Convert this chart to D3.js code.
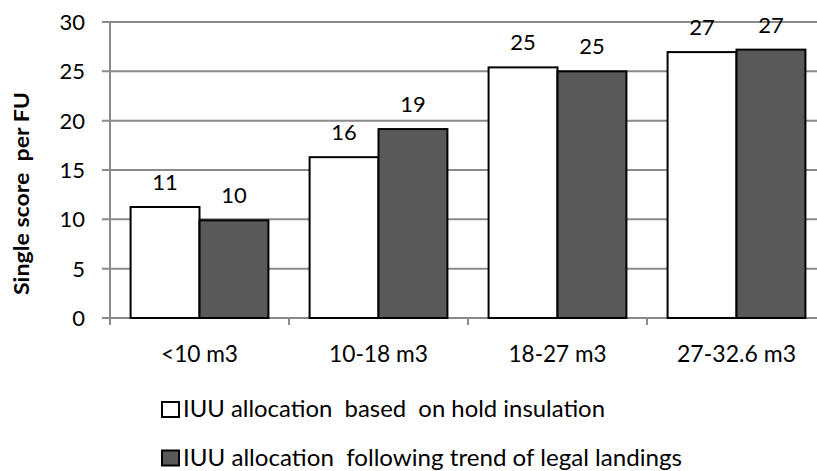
<!DOCTYPE html>
<html>
<head>
<meta charset="utf-8">
<script src="https://cdn.jsdelivr.net/npm/d3@7"></script>
<style>
  html, body { margin: 0; padding: 0; background: #fff; }
  svg { display: block; }
  text { font-family: Lato, "Open Sans", sans-serif; fill: #000; }
</style>
</head>
<body>
<svg id="chart" width="817" height="471"></svg>
<script>
// ---- data ----
const categories = ["<10 m3", "10-18 m3", "18-27 m3", "27-32.6 m3"];
const seriesNames = [
  "IUU allocation  based  on hold insulation",
  "IUU allocation  following trend of legal landings"
];
const hullInsulation = [11.25, 16.3, 25.4, 26.95];
const legalLandings = [9.9, 19.15, 25.0, 27.2];
const labelsHull = ["11", "16", "25", "27"];
const labelsLegal = ["10", "19", "25", "27"];
const yTicks = [0, 5, 10, 15, 20, 25, 30];
const yTitle = "Single score  per FU";

// ---- layout ----
const svg = d3.select("#chart");
const W = 817, H = 471;
const plot = { left: 110, right: 826, top: 22, bottom: 318 };
const gridColor = "#8a8a8a";
const fills = ["#ffffff", "#595959"];

const y = d3.scaleLinear().domain([0, 30]).range([plot.bottom, plot.top]);
const x0 = d3.scaleBand().domain(categories).range([plot.left, plot.right])
  .paddingInner(0.23).paddingOuter(0.115);
const x1 = d3.scaleBand().domain([0, 1]).range([0, x0.bandwidth()]).padding(0);

// gridlines
svg.append("g").selectAll("line").data(yTicks).join("line")
  .attr("x1", plot.left - 8).attr("x2", plot.right)
  .attr("y1", d => y(d)).attr("y2", d => y(d))
  .attr("stroke", gridColor).attr("stroke-width", 2);

// y axis line
svg.append("line")
  .attr("x1", plot.left).attr("x2", plot.left)
  .attr("y1", y(30) - 1).attr("y2", plot.bottom + 7)
  .attr("stroke", gridColor).attr("stroke-width", 2);

// x ticks at category boundaries
const boundaries = categories.map(c => x0(c) - x0.step() * x0.paddingInner() / 2);
boundaries.push(boundaries[boundaries.length - 1] + x0.step());
svg.append("g").selectAll("line").data(boundaries).join("line")
  .attr("x1", d => d).attr("x2", d => d)
  .attr("y1", plot.bottom).attr("y2", plot.bottom + 7)
  .attr("stroke", gridColor).attr("stroke-width", 2);

// y tick labels
svg.append("g").selectAll("text").data(yTicks).join("text")
  .attr("x", 85).attr("y", d => y(d)).attr("dy", "0.36em")
  .attr("text-anchor", "end").attr("font-size", 22)
  .text(d => d);

// bars
const series = [hullInsulation, legalLandings];
const seriesLabels = [labelsHull, labelsLegal];
series.forEach((vals, si) => {
  const g = svg.append("g");
  g.selectAll("rect").data(vals).join("rect")
    .attr("x", (d, i) => x0(categories[i]) + x1(si))
    .attr("y", d => y(d))
    .attr("width", x1.bandwidth())
    .attr("height", d => y(0) - y(d))
    .attr("fill", fills[si]).attr("stroke", "#000").attr("stroke-width", 2);
  g.selectAll("text").data(vals).join("text")
    .attr("x", (d, i) => x0(categories[i]) + x1(si) + x1.bandwidth() / 2)
    .attr("y", d => y(d) - 17)
    .attr("text-anchor", "middle").attr("font-size", 22)
    .text((d, i) => seriesLabels[si][i]);
});

// category labels
const catWidths = [77, 99, 98, 119];
svg.append("g").selectAll("text").data(categories).join("text")
  .attr("x", d => x0(d) + x0.bandwidth() / 2)
  .attr("y", 361.5)
  .attr("text-anchor", "middle").attr("font-size", 23)
  .attr("textLength", (d, i) => catWidths[i]).attr("lengthAdjust", "spacingAndGlyphs")
  .text(d => d);

// y axis title
svg.append("text")
  .attr("transform", "translate(29,193.5) rotate(-90)")
  .attr("text-anchor", "middle").attr("font-size", 20).attr("font-weight", "bold")
  .attr("textLength", 203).attr("lengthAdjust", "spacingAndGlyphs")
  .style("white-space", "pre")
  .text(yTitle);

// legend
const legendRows = [417, 465.5];
const legendWidths = [422, 499];
const lg = svg.append("g");
seriesNames.forEach((name, i) => {
  lg.append("rect")
    .attr("x", 162).attr("y", legendRows[i] - 15)
    .attr("width", 17).attr("height", 15)
    .attr("fill", fills[i]).attr("stroke", "#000").attr("stroke-width", 2);
  lg.append("text")
    .attr("x", 183).attr("y", legendRows[i])
    .attr("font-size", 23)
    .attr("textLength", legendWidths[i]).attr("lengthAdjust", "spacingAndGlyphs")
    .style("white-space", "pre")
    .text(name);
});
</script>
</body>
</html>
